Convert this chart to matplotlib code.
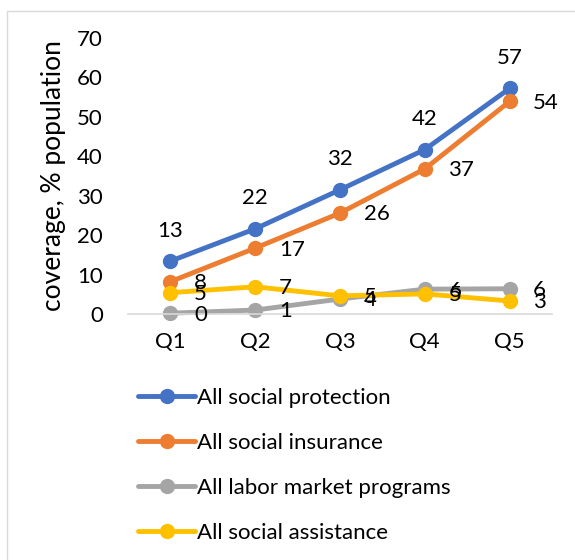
import matplotlib.pyplot as plt
from matplotlib.patches import Rectangle

quintiles = ["Q1", "Q2", "Q3", "Q4", "Q5"]
social_protection = [13.4, 21.6, 31.5, 41.7, 57.2]
social_insurance = [8.2, 16.7, 25.6, 36.8, 53.9]
labor_market = [0.2, 1.0, 3.8, 6.3, 6.4]
social_assistance = [5.4, 6.9, 4.6, 5.1, 3.3]

series = [
    ("All social protection", social_protection, "#4472c4", "above"),
    ("All social insurance", social_insurance, "#ed7d31", "right"),
    ("All labor market programs", labor_market, "#a5a5a5", "right"),
    ("All social assistance", social_assistance, "#ffc000", "right"),
]

plt.rcParams['font.family'] = ['Lato', 'DejaVu Sans']
fs = 16

fig = plt.figure(figsize=(5.75, 5.6), dpi=100)
ax = fig.add_axes([0.2226, 0.4393, 0.7374, 0.4929])

x = list(range(len(quintiles)))
for name, vals, color, pos in series:
    ax.plot(x, vals, color=color, lw=3.5, marker="o", markersize=10,
            solid_capstyle="round", label=name, clip_on=False)
    for xi, v in zip(x, vals):
        if pos == "above":
            ax.annotate(f"{v:.0f}", (xi, v), xytext=(0, 22), textcoords="offset points",
                        ha="center", va="center", fontsize=fs)
        else:
            ax.annotate(f"{v:.0f}", (xi, v), xytext=(17, -1), textcoords="offset points",
                        ha="left", va="center", fontsize=fs)

ax.set_xlim(-0.5, 4.5)
ax.set_ylim(0, 70)
ax.set_yticks(range(0, 71, 10))
ax.set_xticks(x)
ax.set_xticklabels(quintiles)
ax.tick_params(axis="both", length=0, labelsize=fs)
ax.tick_params(axis="y", pad=18)
ax.tick_params(axis="x", pad=13)
for s in ["top", "right", "left"]:
    ax.spines[s].set_visible(False)
ax.spines["bottom"].set_color("#d9d9d9")
ax.spines["bottom"].set_linewidth(1.2)
ax.set_ylabel("coverage, % population", fontsize=19, labelpad=8)

fig.legend(loc="upper left", bbox_to_anchor=(0.225, 0.323), frameon=False,
           fontsize=fs, handlelength=2.55, handletextpad=0.1,
           labelspacing=1.12, borderaxespad=0)

# chart area border
fig.patches.append(Rectangle((7 / 575, -0.1), 1.2, 1 - 11 / 560 + 0.1,
                             transform=fig.transFigure, fill=False,
                             edgecolor="#d9d9d9", lw=1))

fig.savefig("out.png", dpi=100)
